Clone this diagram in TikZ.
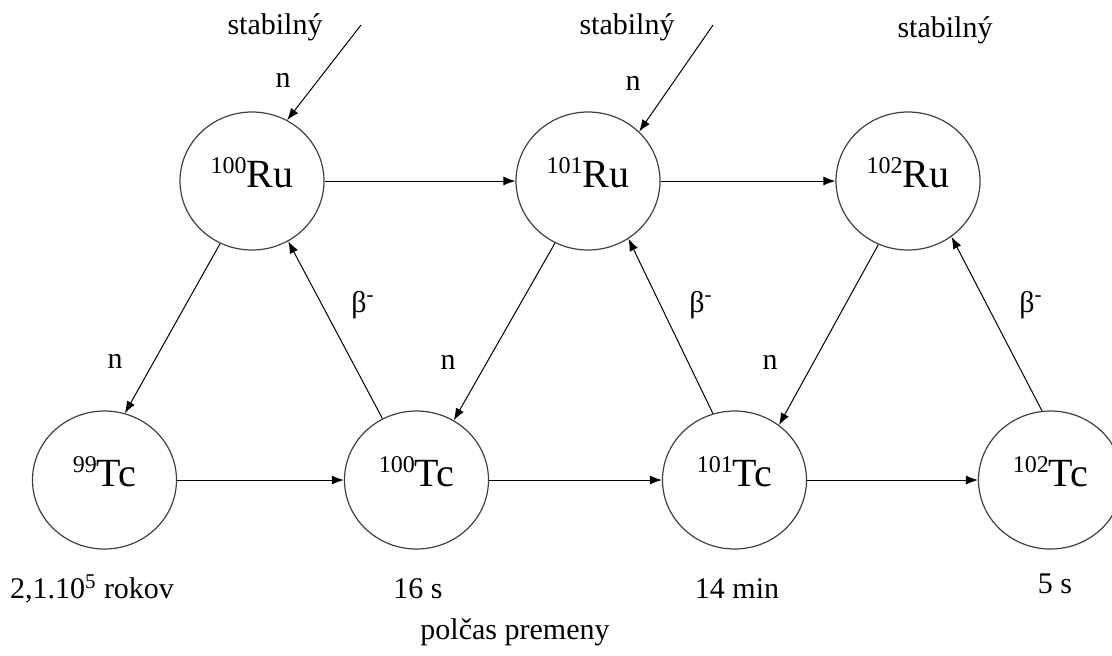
\documentclass[tikz,border=0pt]{standalone}
\usepackage{fontspec}
\setmainfont{Liberation Serif}
\usetikzlibrary{positioning,shapes.geometric,arrows.meta}

\tikzset{
	nuclide/.style={ellipse,draw=black!75,line width=0.6pt,minimum width=72pt,minimum height=69pt,inner sep=0pt,text depth=8pt,font=\fontsize{20}{24}\selectfont},
	lbl/.style={inner sep=0pt,font=\fontsize{15}{18}\selectfont}
}
\newcommand{\iso}[2]{\raisebox{7pt}{\fontsize{12}{14}\selectfont #1}#2}

\begin{document}
\begin{tikzpicture}[x=0.5pt,y=-0.5pt,on grid,>={Latex[length=6pt,width=4.5pt]},line width=0.5pt]
	\useasboundingbox (0,0) rectangle (1112,655);
	\node[nuclide] (ru100) at (252,181) {\iso{100}{Ru}};
	\node[nuclide] (ru101) [right=168pt of ru100] {\iso{101}{Ru}};
	\node[nuclide] (ru102) [right=160pt of ru101] {\iso{102}{Ru}};
	\node[nuclide] (tc99) [below left=149.5pt and 73.75pt of ru100] {\iso{99}{Tc}};
	\node[nuclide] (tc100) [right=156pt of tc99] {\iso{100}{Tc}};
	\node[nuclide] (tc101) [right=159pt of tc100] {\iso{101}{Tc}};
	\node[nuclide] (tc102) [right=158pt of tc101] {\iso{102}{Tc}};
	% labels
	\node[lbl] (st1) at (275,27) {stabilný};
	\node[lbl] (st2) at (627,27) {stabilný};
	\node[lbl] (st3) at (945,30) {stabilný};
	\node[lbl] (n1) at (283,80) {n};
	\node[lbl] (n2) at (633,83) {n};
	\node[lbl] (n3) at (115,361) {n};
	\node[lbl] (n4) at (448,362) {n};
	\node[lbl] (n5) at (770,362) {n};
	\node[lbl] (b1) at (363,305) {β\textsuperscript{-}};
	\node[lbl] (b2) at (701,305) {β\textsuperscript{-}};
	\node[lbl] (b3) at (1031,305) {β\textsuperscript{-}};
	\node[lbl] (t1) at (92,589) {2,1.10\textsuperscript{5} rokov};
	\node[lbl] (t2) at (418,589) {16 s};
	\node[lbl] (t3) at (737,589) {14 min};
	\node[lbl] (t4) at (1055,584) {5 s};
	\node[lbl] (hl) at (515,632) {polčas premeny};
	\coordinate (src1) at (361,25);
	\coordinate (src2) at (713,25);
	\path[->]
	(src1) edge (ru100.60)
	(src2) edge (ru101.44)
	(ru100) edge (ru101)
	(ru101) edge (ru102)
	(tc99) edge (tc100)
	(tc100.east) edge (tc101.west)
	(tc101) edge (tc102)
	(ru100.243) edge (tc99.73)
	(tc100.119) edge (ru100.301)
	(ru101.242) edge (tc100.58)
	(tc101.108) edge (ru101.305)
	(ru102.245) edge (tc101.51)
	(tc102.97) edge (ru102.308);
\end{tikzpicture}
\end{document}
